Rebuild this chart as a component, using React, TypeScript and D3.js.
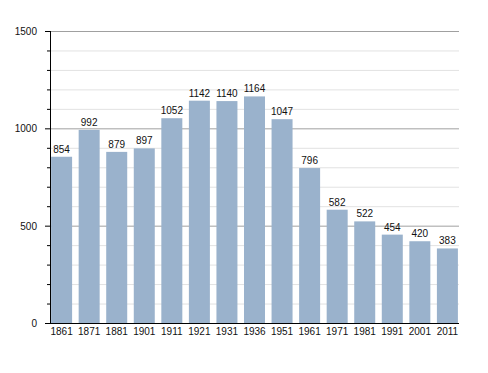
import * as d3 from 'd3'

const years = ['1861', '1871', '1881', '1901', '1911', '1921', '1931', '1936', '1951', '1961', '1971', '1981', '1991', '2001', '2011']
const population = [854, 992, 879, 897, 1052, 1142, 1140, 1164, 1047, 796, 582, 522, 454, 420, 383]
const majorTicks = [0, 500, 1000, 1500]
const minorTicks = d3.range(0, 1501, 100)

const width = 488
const height = 373
const margin = { top: 31, right: 29, bottom: 50, left: 50 }

const App = () => {
  const x = d3
    .scaleBand()
    .domain(years)
    .range([margin.left, width - margin.right])
    .paddingInner(0.238)
    .paddingOuter(0.04)

  const y = d3
    .scaleLinear()
    .domain([0, 1500])
    .range([height - margin.bottom, margin.top])

  const font = 'Liberation Sans, Arial, sans-serif'
  const fs = 10
  const x0 = margin.left
  const x1 = width - margin.right

  return (
    <svg
      width={width}
      height={height}
      style={{ position: 'absolute', left: 0, top: 0, background: '#fff' }}
    >
      {/* minor gridlines */}
      {minorTicks
        .filter(t => t % 500 !== 0)
        .map(t => (
          <line key={'g' + t} x1={x0} x2={x1} y1={y(t) + 0.5} y2={y(t) + 0.5} stroke='#e2e2e2' />
        ))}
      {majorTicks
        .filter(t => t > 0)
        .map(t => (
          <line key={'G' + t} x1={x0} x2={x1} y1={y(t) + 0.5} y2={y(t) + 0.5} stroke='#a0a0a0' />
        ))}

      {population.map((v, i) => (
        <rect
          key={years[i]}
          x={x(years[i])}
          y={y(v)}
          width={x.bandwidth()}
          height={y(0) - y(v)}
          fill='#9ab2cc'
        />
      ))}

      {population.map((v, i) => (
        <text
          key={'l' + years[i]}
          x={(x(years[i]) as number) + x.bandwidth() / 2}
          y={y(v) - 4}
          textAnchor='middle'
          fontFamily={font}
          fontSize={fs}
          fill='#111'
        >
          {v}
        </text>
      ))}

      {/* y axis */}
      <line x1={x0 + 0.5} x2={x0 + 0.5} y1={y(1500)} y2={y(0)} stroke='#000' />
      {minorTicks.map(t => (
        <line
          key={'t' + t}
          x1={t % 500 === 0 ? x0 - 5 : x0 - 3}
          x2={x0}
          y1={y(t) + 0.5}
          y2={y(t) + 0.5}
          stroke='#000'
        />
      ))}
      {majorTicks.map(t => (
        <text
          key={'y' + t}
          x={x0 - 13}
          y={y(t) + 4}
          textAnchor='end'
          fontFamily={font}
          fontSize={fs}
          fill='#111'
        >
          {t}
        </text>
      ))}

      {/* x axis */}
      <line x1={x0 - 5} x2={x1} y1={y(0) + 0.5} y2={y(0) + 0.5} stroke='#000' />
      {years.map(yr => (
        <text
          key={'x' + yr}
          x={(x(yr) as number) + x.bandwidth() / 2}
          y={y(0) + 12}
          textAnchor='middle'
          fontFamily={font}
          fontSize={fs}
          fill='#111'
        >
          {yr}
        </text>
      ))}
    </svg>
  )
}

export default App
